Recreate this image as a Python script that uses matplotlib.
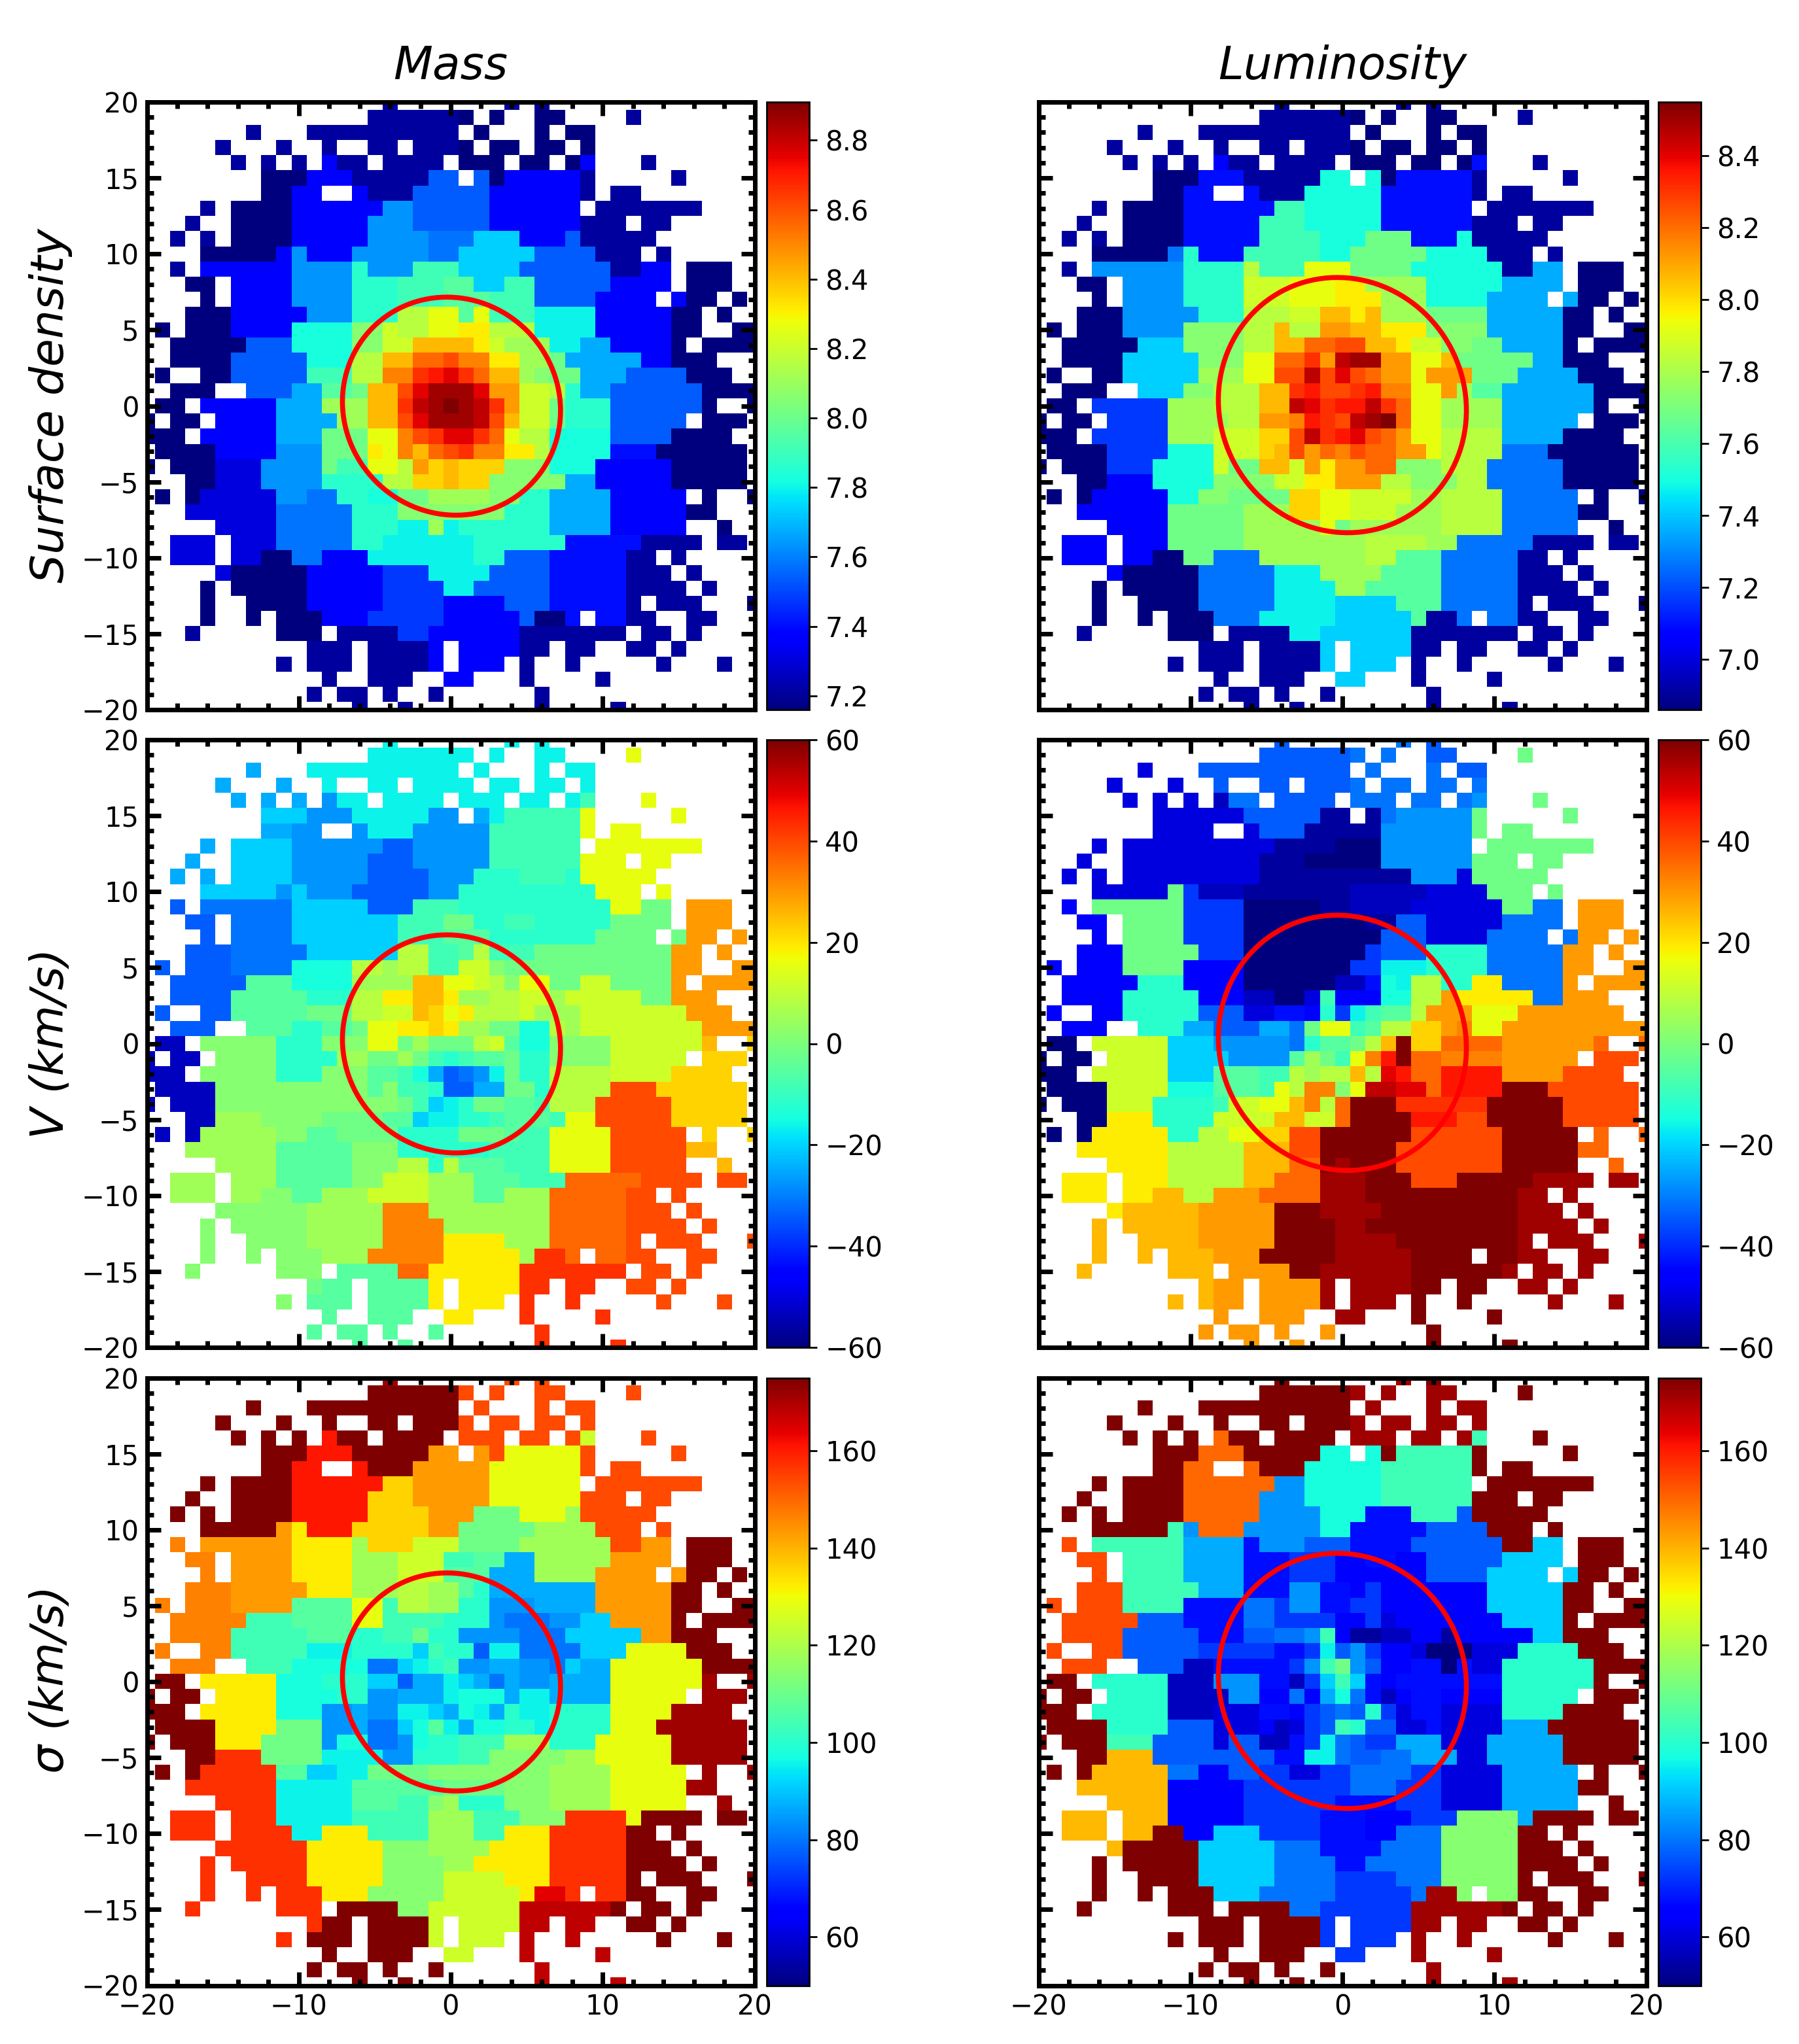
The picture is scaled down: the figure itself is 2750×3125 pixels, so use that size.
import numpy as np
import matplotlib
matplotlib.use("Agg")
import matplotlib.pyplot as plt
from matplotlib.patches import Ellipse
from matplotlib.ticker import FuncFormatter

# Each row is y = 20 ... -20, each character a colour level at x = -20 ... 20 ('.' = no data)
LEVELS = "0123456789abcdefghijklmnopqrstuvwxyz"
LEVEL_FRACTIONS = [0.0, 0.03, 0.055, 0.085, 0.114, 0.14, 0.18, 0.215, 0.24, 0.27, 0.295, 0.33,
                   0.365, 0.38, 0.40, 0.429, 0.457, 0.486, 0.514, 0.543, 0.571, 0.60, 0.629, 0.657,
                   0.686, 0.714, 0.743, 0.771, 0.80, 0.829, 0.857, 0.886, 0.914, 0.943, 0.971, 1.0]

mass_density = [
".......... ......1... ....1.1... .......... .",
".......... .....11111 10.0..00.. ..1....... .",
".......1.. .111111111 1.0...0.00 .......... .",
".....1...1 ..1..11.11 10.00.00.0 .......... .",
"......1.1. 1.411.1111 .000.00.04 ...1...... .",
"........00 0444111117 7.70444441 .....1.... .",
"........00 44..411177 7774444441 .11....... .",
"....1.0000 4444449977 777444444. 1111111... .",
"...1..0000 4444499977 7774444441 11.11..... .",
"..1.1.0000 4444499998 88bbb44471 1111...... .",
"....000004 9444999998 8bbbbb7777 111.1..... .",
"..1.444444 9999e999ff fbbbb77777 71144.000. .",
"...00.4444 9999eeefff ggbbff7777 74444.000. .",
"....0.4444 9999eeefff gggfff7777 4444.400.0 .",
"...0004444 4999eeekkm mgmfffcccc 4444400.0. .",
".0.0004444 ddddiilkkm mnnkkkcccc 4444400..0 0",
"..00000777 ddddiillpp ppnljjjcca a44440.000 0",
"..00007777 7dddkkppss trrnnjjhaa aaa44000.. .",
".0..007777 7fffkkrruv wusppjihha aa7777000. .",
"..000..777 aagghpptwy yywqqllkea a777777000 0",
".00.44444a aajjjppuxy zyxuqllhee e7777770.. 0",
"0.00.4444a aaajjpptwy yyxtpllhee e77777.000 .",
"000.44444a aahhhmmrtu wwusmkkddd d77770000. .",
".000044449 99hhhnmrps turrnnkddd d555000000 .",
"0.00033399 99hffmmkqo poooiiiddd 4444400000 .",
"...0033399 99eeeekkoo pooiiiiiaa 4444400000 .",
".0.0333339 988eeddhhj jjjiieeaaa a44444.0.. 0",
"...3333338 8888eeeiii iiiieeeaaa a4444400.. .",
".....33338 8888eeeccj ceeeeeeaaa a44444..0. .",
"..333.3338 8888eecccc cceeeeee55 5551111.11 .",
"..333.3300 88444ccccc ccee777555 5511.1.... .",
".....30000 044444666c ccc7777555 55111.1... .",
"....0.0000 0444446666 cc77777555 551111.1.. .",
"....0..000 0444446666 4444777555 551.111... 0",
"....0..0.0 0044466666 444447005. 5511..11.. .",
"...1.....0 00.1111664 4444411111 11.11.1... .",
".......... .111.11114 .444411.11 ..11.1.... .",
".........1 .111.11114 .444.1..1. ....1...1. .",
".......... ..1..111.. 44...1.... 1......... .",
".......... .1.11.1..1 ......1... .......... .",
".......... ....1..1.. ......1... .1........ .",
]

lum_density = [
".......... ......1... ....1.1... .......... .",
".......... .....11111 10.0..00.. ..1....... .",
".......1.. .111111111 1.0...0.00 .......... .",
".....1...1 ..1..11.11 10.00.00.0 .......... .",
"......1.1. 1.411.1111 .000.00.05 ...1...... .",
"........00 055511111d d.d0555551 .....1.... .",
"........00 55..5111dd ddd5555551 .11....... .",
"....1.0000 555555ffdd ddd555555. 1111111... .",
"...1..0000 55555fffdd ddd5555551 11.11..... .",
"..1.1.0000 55555ffffd ddhhh555d1 1111...... .",
"....000008 e555fffffd dhhhhhdddd 111.1..... .",
"..1.999999 eeeekfffmm mhhhhddddd d11aa.000. .",
"...00.9999 eeeelllmmm nnjjjjdddd daaaa.000. .",
"....0.9999 eeeelllmmm nnnjjjdddd aaaa.a00.0 .",
"...0009999 9eeekkkllp pnpjjjhhhh aaaaa00.0. .",
".0.0009999 iiiikkpkkq qppnnniiii aaaaa00..0 0",
"..00000bbb iiiikkppss ttppnlliih haaaa0.000 0",
"..0000bbbb biiimmssuq xyyqqmmphh hhhaa000.. .",
".0..00bbbb bjjjmmttxt wtsqqmqqqh hhaaaa000. .",
"..000..bbb iikkkppuvt tuvrrmmqjg gaaaaaa000 0",
".00.66666j jjkkkppxwu vvxusmmjjj jaaaaaa0.. 0",
"0.00.6666j jjjkkqqrvu txyzsmmjjj jaaaaa.000 .",
"000.66666j jjlllootxu vwtsqmmkkk kaaaa0000. .",
".00006666d ddllloptqs rtssqqmkkk k888000000 .",
"0.000666dd ddlhhpplqn qqssiiikkk 8888800000 .",
"...00444dd ddiiiillnn qqqkkiiikk 8888800000 .",
".0.044444d diihhhhoom mlllljjkkk k88888.0.. 0",
"...444444h hhhhjjjoom mllljjjkkk k8888800.. .",
".....4444h hhhhjjjjjm hjjjjjjkkk k88888..0. .",
"..444.444h hhhhjjjjjj jjkkkkjj88 8881111.11 .",
"..444.4400 hh888jjjjj jjkkggg888 8811.1.... .",
".....40000 088888cccj jjjgggg888 88111.1... .",
"....0.0000 088888cccc jjggggg888 881111.1.. .",
"....0..000 088888cccc bbbbggg888 881.111... 0",
"....0..0.0 00888ccccc bbbbbg118. 8811..11.. .",
"...1.....0 00.1111ccb bbbbb11111 11.11.1... .",
".......... .111.1111b .bbbb11.11 ..11.1.... .",
".........1 .111.1111b .bbb.1..1. ....1...1. .",
".......... ..1..111.. bb...1.... 1......... .",
".......... .1.11.1..1 ......1... .......... .",
".......... ....1..1.. ......1... .1........ .",
]

mass_velocity = [
".......... ......c... ....c.c... .......... .",
".......... .....ccccc cc.c..cc.. ..m....... .",
".......a.. .ccccccccc c.c...c.cc .......... .",
".....a...a ..c..cc.cc cc.cc.cc.c .......... .",
"......a.a. a.9cc.cccc .ccc.cc.cf ...m...... .",
"........bb b999ccccc9 9.acfffffm .....m.... .",
"........aa 99..9ccc99 999ffffffm .mm....... .",
"....a.bbbb 9999997799 999ffffff. mmmmmmm... .",
"...a..bbbb 9999977799 999ffffffm mm.mm..... .",
"..a.a.bbbb 9999977779 99eeefffem mmmm...... .",
"....bbbbb9 b999777779 9eeeeeeeee mmm.m..... .",
"..7.888888 bbbbb777ff feeeeeeeee emmhh.qqq. .",
"...77.8888 bbbbbbbfff hheeffeeee ehhhh.qqq. .",
"....7.8888 bbbbbbbfff gggeeeeeee hhhh.hqq.q .",
"...7778888 8bbbbbbkkf fgkfffhhhh hhhhhqq.q. .",
".7.7778888 ddddkkjkkf fllihhhhhh hhhhhqq..q q",
"..77777ggg ddddjjjjpp mmlkimmhhl lhhhhq.qqq q",
"..7777gggg geeekknnpp njjkklljll lllhhqqq.. .",
".7..77gggg ghhhkkllpo mnkkkljjjl llllllqqq. .",
"..777..ggg eegghmmnno njjhhddkjl lllllllqqq q",
".22.iiiiie eeiiimmhjh hhklgddiii illllllp.. o",
"2.22.iiiie eeejjhhjhf efggheeiii illlll.ooo .",
"222.iiiiie eeiiiggfda 789cheekkk klllloooo. .",
".2222iiiii iiiiigiffe 77aahhekkk ktttoooooo .",
"2.222iiiii iiiiiiihfb cehhggfkkk tttttooooo .",
"...22jjjii iihhhhggbc ceefgggfmm tttttooooo .",
".2.2jjjjji igghhhheee ehhhgffmmm mttttt.o.. o",
"...jjjjjjg ggggiiieee eeeffffmmm mtttttpp.. .",
".....jjjjg ggggiiikke kgggfffmmm mttttt..p. .",
"..jjj.jjjg ggggiilllj jjgggfffss ssstttt.tt .",
"..jjj.jjii ggjjjllllj jjggjjjsss sstt.t.... .",
".....iiiii ijjjjjrrrj jjjjjjjsss ssttt.t... .",
"....i.iiii ijjjjjrrrr jjjjjjjsss sstttt.t.. .",
"....i..iii ijjjjjrrrr nnnnjjjsss sst.ttt... t",
"....i..i.i iijjjrrrrr nnnnnjuus. sstt..tt.. .",
"...i.....i ii.ggggssn nnnnnuuuuu uu.tt.t... .",
".......... .hgg.ggggn .nnnnuu.uu ..tt.t.... .",
".........i .ggg.ggggn .nnn.u..u. ....t...t. .",
".......... ..g..ggg.. nn...u.... u......... .",
".......... .g.gg.g..g ......u... .......... .",
".......... ....g..g.. ......u... .u........ .",
]

lum_velocity = [
".......... ......7... ....8.7... .......... .",
".......... .....77777 78.8..77.. ..h....... .",
".......3.. .777777777 7.8...8.77 .......... .",
".....3...3 ..7..77.77 78.88.88.8 .......... .",
"......3.3. 3.288.7777 .888.88.89 ...h...... .",
"........33 3333777771 1.1899999h .....h.... .",
"........33 33..377711 111999999h .hh....... .",
"....3.3333 3333331111 000999999. hhhhhhh... .",
"...3..3333 3333311100 000999999h hh.hh..... .",
"..3.3.3333 3333311111 111119993h hhhh...... .",
"....33333h 6222111111 1222223333 hhh.h..... .",
"..4.hhhhhh 6666000001 1222233333 3hh88.qqq. .",
"...44.hhhh 6666000000 0011773333 38888.qqq. .",
"....4.hhhh 6666000000 0007773333 8888.8qq.q .",
"...444hhhh h666000000 006777eeee 88888qq.q. .",
".4.444hhhh 4444000000 066ccceeee 88888qq..q q",
"..44444eee 4444000000 225dckkeen n8888q.qqq q",
"..4444eeee e44422003f 444ddkkqnn nnn88qqq.. .",
".4..44eeee e77733554e 6cfggkqqqm mmqqqqqqq. .",
"..444..eee aa777aa8hm mfgkkooqrm mqqqqqqqqq q",
".00.lllllb bb999998eg ghkpzoosss sqqqqqqs.. s",
"0.00.llllb bbb9999gjh fmrvzssrrr rqqqqq.ttt .",
"000.lllllb bbgggffkjk kpkwvssvvv vqqqqtttt. .",
".0000lllld ddgggfmkrr imxxwwsvvv vzzztttttt .",
"0.000lllee eefllmmprk szzzuuuuuu zzzzzttttt .",
"...00nnnee eellllppll szzzzvvvtt zzzzzttttt .",
".0.0nnnnne ekkmmoottz zzzzzttttt tzzzzz.s.. s",
"...nnnnnnk kkkkpppttz zzzztttttt tzzzzzss.. .",
".....nnnnk kkkkpppssz yzzztttttt tzzzzz..s. .",
"..nnn.nnnk kkkkppsssy yyzzztttzz zzzyyyy.yy .",
"..nnn.nnpp kkqqqssssy yyzzzzzzzz zzyy.y.... .",
".....npppp pqqqqqzzzy yyyzzzzzzz zzyyy.y... .",
"....p.pppp pqqqqqzzzz yyzzzzzzzz zzyyyy.y.. .",
"....p..ppp pqqqqqzzzz yyyyzzzzzz zzy.yyy... y",
"....p..p.p ppqqqzzzzz yyyyyzzzz. zzyy..yy.. .",
"...p.....p pp.qqqqzzy yyyyyzzzzz zy.yy.y... .",
".......... .pqq.qqqqy .yyyyzz.zz ..yy.y.... .",
".........p .pqq.qqqqy .yyy.z..z. ....y...y. .",
".......... ..q..qqq.. yy...z.... z......... .",
".......... .q.qq.q..q ......z... .......... .",
".......... ....q..q.. ......z... .z........ .",
]

mass_sigma = [
".......... ......y... ....t.t... .......... .",
".......... .....zzzzz zt.t..tt.. ..t....... .",
".......z.. .zzzzzzzzz z.t...t.tt .......... .",
".....z...z ..z..zz.zz zt.tt.tt.t .......... .",
"......z.z. z.vzz.zzzz .ttt.tt.tl ...t...... .",
"........zz zvvvzzzzzq q.qtmmmmmt .....t.... .",
"........zz vv..vzzzqq qqqmmmmmmt .tt....... .",
"....z.zzzz vvvvvvooqq qqqmmmmmm. ttttttt... .",
"...z..zzzz vvvvvoooqq qqqmmmmmmt tt.tt..... .",
"..z.z.zzzz vvvvvooooq qqhhhmmmjt tttt...... .",
"....zzzzzq nvvvoooooq qhhhhhjjjj ttt.t..... .",
"..r.qqqqqq nnnnjoooll lhhhhjjjjj jttqq.zzz. .",
"...rr.qqqq nnnnjjjlll ffggaajjjj jqqqq.zzz. .",
"....r.qqqq nnnnjjjlll gggaaajjjj qqqq.qzz.z .",
"...rrrqqqq qnnnjjjkkj jgeaaaaaaa qqqqqzz.z. .",
".r.rrrqqqq ggggmmfkkj jee999aaaa qqqqqzz..z z",
"..rrrrrfff ggggmmffff eee988899b bqqqqz.zzz z",
"..rrrrffff fgggeeffhe e9999888bb bbbqqzzz.. .",
".r..rrffff fccceeeebf ee7cc8888b bbmmmmzzz. .",
"..rrr..fff ddddd88bce f99aa998ba ammmmmmzzz z",
".zz.nnnnnd ddeeebb7aa cba8a99aaa ammmmmmy.. y",
"z.zz.nnnnd dddee99aaa cdddaccaaa ammmmm.yyy .",
"zzz.nnnnnd dd99a99ccb adcaecceee emmmmyyyy. .",
".zzzznnnnh hh99a88bdg caddeeceee emmmyyyyyy .",
"z.zzznnnhh hh9dd889de efffjjjeee mmmmmyyyyy .",
"...zzuuuhh hhcccc99ee effiiiiijj mmmmmyyyyy .",
".z.zuuuuug gbbcchhhhi iiiiiiijjj jmmmmm.y.. y",
"...uuuuuuc ccccgggggg hhhhiiijjj jmmmmmyy.. .",
".....uuuuc ccccgggffi jeeeiiijjj jmmmmm..y. .",
"..uuu.uuuc ccccfffffj jjfffiiiuu uumzzzz.zz .",
"..uuu.uuuu ccnnnffffj jjffnnnuuu uuzz.z.... .",
".....uuuuu unnnnniiij jjjnnnnuuu uuzzz.z... .",
"....u.uuuu unnnnniiii jjnnnnnuuu uuzzzz.z.. .",
"....u..uuu unnnnniiii llllnnnuuu uuz.zzz... z",
"....u..u.u uunnniiiii lllllnwwu. uuzz..zz.. .",
"...u.....u uu.zzzziil lllllxxxxx xz.zz.z... .",
".......... .uzz.zzzzl .llllxx.xx ..zz.z.... .",
".........u .zzz.zzzzl .lll.x..x. ....z...z. .",
".......... ..z..zzz.. ll...x.... x......... .",
".......... .z.zz.z..z ......x... .......... .",
".......... ....z..z.. ......x... .x........ .",
]

lum_sigma = [
".......... ......z... ....y.z... .......... .",
".......... .....zzzzz zy.y..yy.. ..z....... .",
".......z.. .zzzzzzzzz z.y...y.yy .......... .",
".....z...z ..z..zz.zz zy.yy.yy.y .......... .",
"......z.z. z.szz.zzzz .yyy.yy.yf ...z...... .",
"........zz zssszzzzzd d.dzfffffz .....z.... .",
"........zz ss..szzzdd dddffffffz .zz....... .",
"....z.zzzz ssssss99dd dddffffff. zzzzzzz... .",
"...z..zzzz sssss999dd dddffffffz zz.zz..... .",
"..z.z.zzzz sssss9999d dd555fff7z zzzz...... .",
"....zzzzzf 9sss99999d d555557777 zzz.z..... .",
"..t.ffffff aaaa599977 7555577777 7zzbb.zzz. .",
"...tt.ffff aaaa555666 4455447777 7bbbb.zzz. .",
"....t.ffff aaaa555666 4444447777 bbbb.bzz.z .",
"...tttffff faaa555995 5464444444 bbbbbzz.z. .",
".t.tttffff 5555886995 5664444444 bbbbbzz..z z",
"..ttttt777 5555886666 4463444444 4bbbbz.zzz z",
"..tttt7777 755577889f 4112244144 444bbzzz.. .",
".t..tt7777 766666556c 7964430003 33eeeezzz. .",
"..ttt..777 225555569f h974455053 3eeeeeezzz z",
".zz.eeeee2 229995526b fb54555555 5eeeeeez.. z",
"z.zz.eeee2 222994484a d852455444 4eeeee.zzz .",
"zzz.eeeee2 2233355467 87e6355333 3eeeezzzz. .",
".zzzzeeee7 7733342367 fe77335333 3aaazzzzzz .",
"z.zzzfff77 773772256c 8766aaa333 aaaaazzzzz .",
"...zzppp77 77777755cc 87788aaa33 aaaaazzzzz .",
".z.zppppp8 8447766336 6888866333 3aaaaa.z.. z",
"...pppppp4 4444666666 6888666333 3aaaaazz.. .",
".....pppp4 4444666666 5555666333 3aaaaa..z. .",
"..ppp.ppp4 4444666665 55444666ii iiazzzz.zz .",
"..ppp.ppzz 44bbb66665 5544888iii iizz.z.... .",
".....pzzzz zbbbbb8885 5558888iii iizzz.z... .",
"....z.zzzz zbbbbb8888 5588888iii iizzzz.z.. .",
"....z..zzz zbbbbb8888 6666888iii iiz.zzz... z",
"....z..z.z zzbbb88888 666668yyi. iizz..zz.. .",
"...z.....z zz.zzzz886 66666yyyyy yz.zz.z... .",
".......... .zzz.zzzz6 .6666yy.yy ..zz.z.... .",
".........z .zzz.zzzz6 .666.y..y. ....z...z. .",
".......... ..z..zzz.. 66...y.... y......... .",
".......... .z.zz.z..z ......y... .......... .",
".......... ....z..z.. ......y... .y........ .",
]

col_titles = ["Mass", "Luminosity"]
row_labels = ["Surface density", "V (km/s)", r"$\sigma$ (km/s)"]
ranges = [[(7.16, 8.91), (6.86, 8.55)], [(-60, 60), (-60, 60)], [(50, 175), (50, 175)]]
cbar_ticks = [
    [[7.2, 7.4, 7.6, 7.8, 8.0, 8.2, 8.4, 8.6, 8.8], [7.0, 7.2, 7.4, 7.6, 7.8, 8.0, 8.2, 8.4]],
    [[-60, -40, -20, 0, 20, 40, 60], [-60, -40, -20, 0, 20, 40, 60]],
    [[60, 80, 100, 120, 140, 160], [60, 80, 100, 120, 140, 160]],
]
cbar_fmt = ["{:.1f}", "{:d}", "{:d}"]
grids = [[mass_density, lum_density], [mass_velocity, lum_velocity], [mass_sigma, lum_sigma]]
# ellipse: centre x, centre y, width, height, angle
circles = [(0.05, -0.02, 14.65, 14.05, -45), (0.0, 0.05, 16.98, 16.14, -62.3)]

W, H = 2750.0, 3125.0
col_x = [(224.5, 1153.5), (1587.5, 2516.5)]
cbar_x = [(1172, 1237), (2535, 2600)]
row_y = [(156, 1085), (1131, 2060), (2106.5, 3035.5)]


def decode(rows, vmin, vmax):
    out = np.full((41, 41), np.nan)
    for r, row in enumerate(rows):
        s = row.replace(" ", "").ljust(41, ".")[:41]
        for c, ch in enumerate(s):
            if ch != ".":
                out[r, c] = vmin + (vmax - vmin) * LEVEL_FRACTIONS[LEVELS.index(ch)]
    return np.ma.masked_invalid(out)


def tick_formatter(fmt):
    def f(v, pos):
        val = round(v, 3) if "f" in fmt else int(round(v))
        return fmt.format(val).replace("-", "\u2212")
    return FuncFormatter(f)


fig = plt.figure(figsize=(W / 250, H / 250), dpi=250)
LW = 2.0
for i, (y0, y1) in enumerate(row_y):
    for j, (x0, x1) in enumerate(col_x):
        ax = fig.add_axes([x0 / W, 1 - y1 / H, (x1 - x0) / W, (y1 - y0) / H])
        vmin, vmax = ranges[i][j]
        data = decode(grids[i][j], vmin, vmax)
        im = ax.imshow(data, cmap="jet", vmin=vmin, vmax=vmax, origin="upper",
                       extent=(-20.5, 20.5, -20.5, 20.5), interpolation="nearest", aspect="auto")
        ax.set_xlim(-20, 20)
        ax.set_ylim(-20, 20)
        ax.set_xticks([-20, -10, 0, 10, 20])
        ax.set_xticks(np.arange(-20, 21, 2), minor=True)
        ax.set_yticks(np.arange(-20, 21, 5))
        ax.set_yticks(np.arange(-20, 21, 1), minor=True)
        ax.tick_params(which="major", direction="in", top=True, right=True, length=6, width=LW,
                       labelsize=12, pad=3.5)
        ax.tick_params(which="minor", direction="in", top=True, right=True, length=3, width=LW)
        ax.tick_params(labelbottom=(i == 2), labelleft=(j == 0))
        for s in ax.spines.values():
            s.set_linewidth(LW)
        cx, cy, w, h, a = circles[j]
        ax.add_patch(Ellipse((cx, cy), w, h, angle=a, fill=False, edgecolor="red", linewidth=2.2))
        if i == 0:
            ax.set_title(col_titles[j], fontsize=20, style="italic", pad=10)
        if j == 0:
            ax.set_ylabel(row_labels[i], fontsize=20, style="italic", labelpad=4)
        c0, c1 = cbar_x[j]
        cax = fig.add_axes([c0 / W, 1 - y1 / H, (c1 - c0) / W, (y1 - y0) / H])
        cb = fig.colorbar(im, cax=cax, ticks=cbar_ticks[i][j], format=tick_formatter(cbar_fmt[i]))
        cb.ax.tick_params(direction="out", length=3.5, width=0.8, labelsize=12, pad=3.5)
        cb.outline.set_linewidth(0.8)
fig.savefig("out.png", dpi=250)
